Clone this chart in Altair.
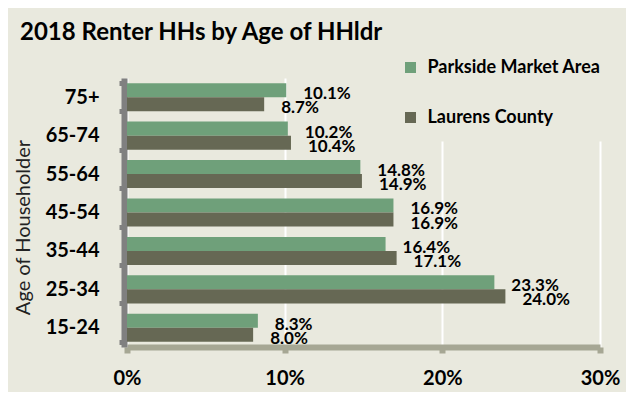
import altair as alt
import pandas as pd

title_text = ["2018 Renter HHs by Age of HHldr"]
ages = ["75+", "65-74", "55-64", "45-54", "35-44", "25-34", "15-24"]
parkside = [10.1, 10.2, 14.8, 16.9, 16.4, 23.3, 8.3]
laurens = [8.7, 10.4, 14.9, 16.9, 17.1, 24.0, 8.0]
series = ["Parkside Market Area", "Laurens County"]
x_ticks = [0, 10, 20, 30]

rows = []
for a, p, l in zip(ages, parkside, laurens):
    rows.append({"age": a, "series": series[0], "value": p})
    rows.append({"age": a, "series": series[1], "value": l})
df = pd.DataFrame(rows)

FONT = "Lato"
BG = "#E9E9DE"

y_enc = alt.Y("age:N", sort=ages,
              scale=alt.Scale(paddingInner=0.27, paddingOuter=0.135),
              axis=alt.Axis(title="Age of Householder", titleFont=FONT, titleFontSize=20,
                            titleFontWeight="normal", titleColor="#222222",
                            titleX=-101, titleY=149, titleAngle=270,
                            titleBaseline="middle", titleAlign="center",
                            labelFont=FONT, labelFontSize=20, labelFontWeight="bold",
                            labelColor="#000000", labelPadding=20, offset=3,
                            domainColor="#808080", domainWidth=6,
                            tickColor="#808080", tickWidth=5, tickSize=5,
                            tickBand="extent", grid=False))
yoff = alt.YOffset("series:N", sort=series, scale=alt.Scale(paddingInner=0.0))

x_enc = alt.X("value:Q", scale=alt.Scale(domain=[0, 30], nice=False),
              axis=alt.Axis(values=x_ticks, title=None, labelExpr="datum.value + '%'",
                            labelFont=FONT, labelFontSize=20, labelFontWeight="bold",
                            labelColor="#000000", labelPadding=15, labelFlush=False,
                            domainColor="#A6A794", domainWidth=6,
                            tickColor="#A6A794", tickWidth=6, tickSize=6,
                            grid=True, gridColor="#FFFFFF", gridWidth=2))

bars = alt.Chart(df).mark_bar().encode(
    x=x_enc,
    y=y_enc,
    yOffset=yoff,
    color=alt.Color("series:N", sort=series,
                    scale=alt.Scale(domain=series, range=["#6FA07A", "#666854"]),
                    legend=alt.Legend(title=None, orient="none", legendX=259.5, legendY=-34.5,
                                      direction="vertical", symbolType="square",
                                      symbolSize=121, symbolStrokeWidth=0,
                                      labelFont=FONT, labelFontSize=18,
                                      labelFontWeight="bold", labelColor="#000000",
                                      labelOffset=8, rowPadding=32, labelLimit=400,
                                      fillColor=BG, padding=15, zindex=3)),
)

labels = alt.Chart(df).transform_calculate(
    lab="format(datum.value, '.1f') + '%'"
).mark_text(align="left", baseline="alphabetic", dx=17, dy=9, font=FONT,
            fontSize=17, fontWeight="bold", color="#000000").encode(
    x=alt.X("value:Q"),
    y=alt.Y("age:N", sort=ages),
    yOffset=yoff,
    text="lab:N",
)

title = alt.Chart(pd.DataFrame({"t": title_text})).mark_text(
    align="left", baseline="alphabetic", font=FONT, fontSize=24, fontWeight="bold",
    color="#000000").encode(x=alt.value(-107), y=alt.value(-38), text="t:N")

chart = alt.layer(bars, labels, title).properties(
    width=473, height=269,
    padding={"left": 119, "top": 70, "right": 26, "bottom": 45},
    autosize=alt.AutoSizeParams(type="none"),
    background=BG,
).configure_view(stroke=None)

chart.save("out.html", embed_options={"renderer": "svg", "actions": False})
